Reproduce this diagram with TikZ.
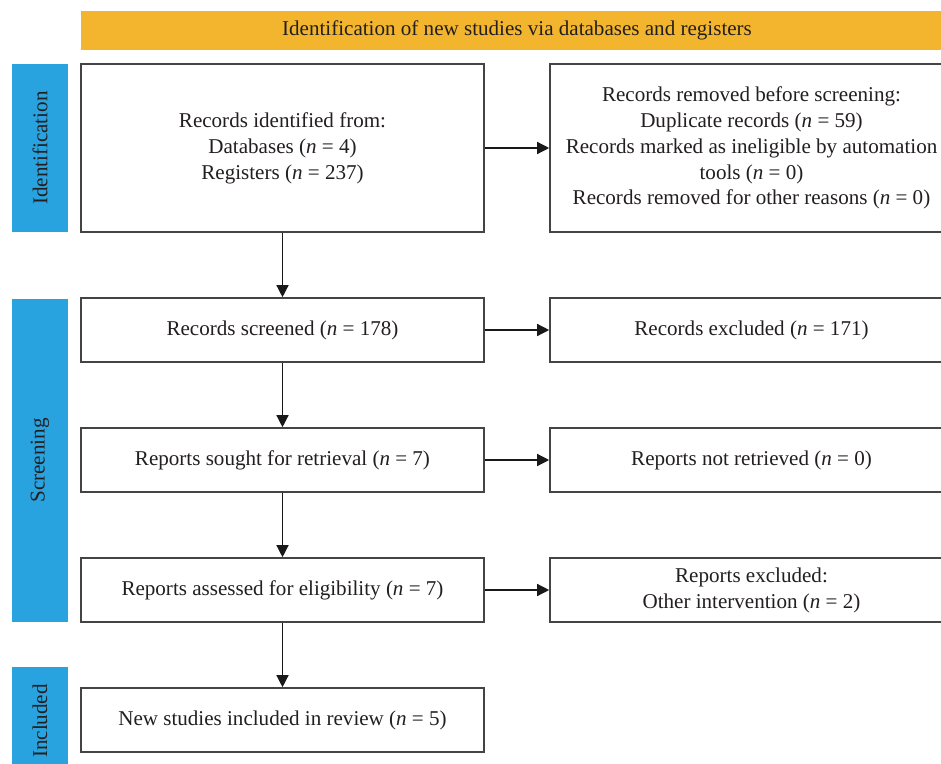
\documentclass[tikz,border=0pt]{standalone}
\usepackage{fontspec}
\setmainfont{Liberation Serif}
\usetikzlibrary{arrows.meta}
\definecolor{bannerorange}{HTML}{F3B52D}
\definecolor{sideblue}{HTML}{29A3DF}
\definecolor{boxline}{HTML}{444444}
\definecolor{txt}{HTML}{231F20}
\tikzset{
  flowbox/.style={draw=boxline, line width=1.2pt, fill=white, text=txt, align=center, inner sep=0pt,
    font=\fontsize{15.8}{19.4}\selectfont},
  sidebar/.style={fill=sideblue, text=txt, inner sep=0pt, font=\fontsize{15.8}{19.4}\selectfont},
  sidelabel/.style={rotate=90, text=txt, font=\fontsize{15.8}{19.4}\selectfont},
  banner/.style={fill=bannerorange, text=txt, inner sep=0pt, font=\fontsize{15.8}{19.4}\selectfont},
  conn/.style={draw=black!90, line width=1pt, -{Triangle[length=9pt,width=9pt]}},
}
\newcommand{\nn}{\textit{n}}
\begin{document}
\begin{tikzpicture}[x=0.75pt,y=-0.75pt]
\useasboundingbox (0,0) rectangle (941,763);
\clip (0,0) rectangle (941,763);
% banner
\node[banner, minimum width=872*0.75pt, minimum height=39*0.75pt] (ban) at (517,30.5) {Identification of new studies via databases and registers};
% side bars
\node[sidebar, minimum width=56*0.75pt, minimum height=168*0.75pt] (sid) at (40,148) {};
\node[sidelabel] (sidt) at (sid.center) {Identification};
\node[sidebar, minimum width=56*0.75pt, minimum height=323*0.75pt] (ssc) at (40,460.5) {};
\node[sidelabel] (ssct) at (ssc.center) {Screening};
\node[sidebar, minimum width=56*0.75pt, minimum height=108*0.75pt] (sin) at (40,721) {};
\node[sidelabel] (sint) at (sin.center) {Included};
% left boxes
\node[flowbox, minimum width=403*0.75pt, minimum height=168*0.75pt] (idb) at (282.5,148)
  {Records identified from:\\ Databases (\nn{} = 4)\\ Registers (\nn{} = 237)};
\node[flowbox, minimum width=403*0.75pt, minimum height=64*0.75pt] (scr) at (282.5,330)
  {Records screened (\nn{} = 178)};
\node[flowbox, minimum width=403*0.75pt, minimum height=64*0.75pt] (sou) at (282.5,460)
  {Reports sought for retrieval (\nn{} = 7)};
\node[flowbox, minimum width=403*0.75pt, minimum height=64*0.75pt] (ass) at (282.5,590)
  {Reports assessed for eligibility (\nn{} = 7)};
\node[flowbox, minimum width=403*0.75pt, minimum height=64*0.75pt] (inc) at (282.5,720)
  {New studies included in review (\nn{} = 5)};
% right boxes
\node[flowbox, minimum width=403*0.75pt, minimum height=168*0.75pt] (rem) at (751.5,148)
  {Records removed before screening:\\ Duplicate records (\nn{} = 59)\\ Records marked as ineligible by automation\\ tools (\nn{} = 0)\\ Records removed for other reasons (\nn{} = 0)};
\node[flowbox, minimum width=403*0.75pt, minimum height=64*0.75pt] (exc) at (751.5,330)
  {Records excluded (\nn{} = 171)};
\node[flowbox, minimum width=403*0.75pt, minimum height=64*0.75pt] (nrt) at (751.5,460)
  {Reports not retrieved (\nn{} = 0)};
\node[flowbox, minimum width=403*0.75pt, minimum height=64*0.75pt] (rex) at (751.5,590)
  {Reports excluded:\\ Other intervention (\nn{} = 2)};
% connectors
\draw[conn] (idb.east) -- (rem.west);
\draw[conn] (scr.east) -- (exc.west);
\draw[conn] (sou.east) -- (nrt.west);
\draw[conn] (ass.east) -- (rex.west);
\draw[conn] (idb.south) -- (scr.north);
\draw[conn] (scr.south) -- (sou.north);
\draw[conn] (sou.south) -- (ass.north);
\draw[conn] (ass.south) -- (inc.north);
\end{tikzpicture}
\end{document}
